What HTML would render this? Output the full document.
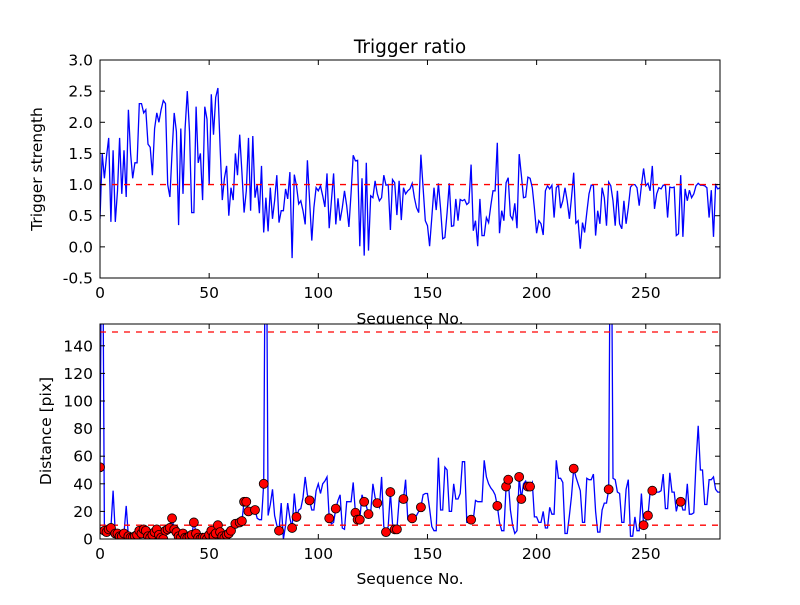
<!DOCTYPE html>
<html><head><meta charset="utf-8"><style>
body{margin:0;background:#fff}
svg{font-family:"DejaVu Sans","Liberation Sans",sans-serif}
</style></head><body>
<svg id="chart" width="800" height="600" viewBox="0 0 800 600">
<rect width="800" height="600" fill="#fff"/>
<defs>
<clipPath id="clipTop"><rect x="100" y="60" width="620" height="218"/></clipPath>
<clipPath id="clipBot"><rect x="100" y="324" width="620" height="215"/></clipPath>
</defs>
<g id="gTop"></g>
<g id="gBot"></g>
</svg>
<script>
const strength = [0.45,1.5,1.1,1.45,1.75,0.4,1.55,0.4,0.9,1.75,0.85,1.55,0.8,2.2,1.5,1.1,1.35,1.35,2.3,2.3,2.15,2.2,1.65,1.6,1.15,1.9,2.15,2.0,2.2,2.35,2.3,1.0,0.8,1.5,2.15,1.85,0.35,1.9,0.85,1.9,2.5,1.85,0.55,0.55,2.25,1.35,1.5,0.75,2.25,2.05,1.0,2.45,1.8,2.4,2.55,1.6,0.75,1.1,1.3,0.5,0.95,0.75,1.5,1.15,1.8,1.2,0.55,0.9,1.75,
0.58,1.78,0.79,1.0,0.54,1.3,0.23,0.79,0.25,0.95,0.45,0.74,1.15,0.39,0.58,0.58,0.93,0.77,1.2,-0.18,1.16,0.98,0.69,0.74,0.58,0.36,1.39,0.74,0.1,0.63,0.95,0.9,0.98,0.82,0.64,1.18,0.3,0.74,1.18,0.36,0.78,0.42,0.63,0.9,0.66,0.32,0.87,1.47,1.38,1.39,0.01,1.1,-0.14,1.35,-0.06,0.82,0.79,1.06,0.85,0.74,0.79,1.15,0.99,1.0,0.27,1.08,1.03,0.51,1.06,0.43,0.95,0.85,0.9,
0.93,1.02,0.79,0.63,0.55,1.48,0.95,0.42,0.34,0.01,0.47,0.95,0.59,1.02,0.61,0.13,0.15,0.55,1.02,0.33,0.34,0.77,0.42,0.76,0.74,0.76,0.68,0.71,1.32,0.26,0.42,0.01,0.77,0.18,0.18,0.47,0.39,0.66,0.9,0.9,1.67,0.22,0.58,0.42,1.03,1.11,0.5,0.44,0.7,0.3,1.49,1.16,0.79,0.8,1.12,1.1,0.95,0.62,0.22,0.42,0.37,0.19,0.9,0.98,0.93,0.99,0.47,0.95,0.99,0.62,0.74,0.95,
0.74,0.45,0.79,1.19,0.38,0.42,-0.03,0.39,0.23,0.55,0.85,0.99,0.99,0.18,0.58,0.37,0.95,0.79,0.34,1.04,0.98,0.74,0.34,0.9,0.37,0.29,0.74,0.37,0.63,0.96,1.0,1.0,0.95,0.66,0.98,1.26,0.98,1.02,0.9,1.3,0.61,0.85,0.95,0.93,0.99,0.99,0.47,0.96,0.95,0.96,0.18,0.21,1.15,0.16,0.93,0.74,0.91,0.79,0.85,0.98,1.02,0.99,0.99,0.98,0.95,0.47,0.91,0.16,0.99,0.93,0.95];
const distance = [52,300,6,5,7,8,35,4,4,2,2,4,24,2,1,1,2,3,6,4,7,6,2,1,3,5,7,3,1,0,6,7,8,15,7,5,2,1,4,1,1,2,3,12,4,1,0,1,1,0,3,6,2,4,10,5,2,1,3,4,6,9,11,12,12,13,27,27,20,21,21,21,15,14,14,40,300,17,25,36,17,10,6,26,0,10,26,15,8,33,16,21,22,30,45,32,28,21,21,35,40,33,40,42,45,15,11,12,22,28,32,8,7,27,27,27,41,19,14,14,32,27,24,18,19,40,30,26,23,45,9,5,9,34,11,7,7,28,28,29,43,14,14,15,16,17,20,23,32,33,33,22,9,6,6,59,21,21,52,50,20,20,40,29,29,33,56,56,12,12,14,14,28,27,27,27,57,45,40,37,35,32,24,12,6,6,38,43,21,10,4,6,45,29,40,42,38,38,41,16,16,12,12,20,8,8,23,18,18,57,44,44,41,4,4,17,31,51,45,40,35,12,12,44,43,43,47,20,5,5,21,26,26,36,300,44,43,34,33,12,12,36,43,2,2,16,6,6,33,10,13,17,34,35,34,34,34,35,47,22,22,48,34,34,20,27,27,21,21,40,18,18,19,55,82,50,50,25,25,43,43,45,36,34,34];
const markerIdx = [0,2,3,4,5,7,8,9,10,11,13,14,15,16,17,18,19,20,21,22,23,24,25,26,27,28,29,30,31,32,33,34,35,36,37,38,39,40,41,42,43,44,45,46,47,48,49,50,51,52,53,54,55,56,57,58,59,60,62,64,65,66,67,68,71,75,82,88,90,96,105,108,117,118,119,121,123,127,131,133,135,136,139,143,147,170,182,186,187,192,193,196,197,217,233,249,251,253,266];
const topYTicks = [-0.5,0,0.5,1.0,1.5,2.0,2.5,3.0];
const botYTicks = [0,20,40,60,80,100,120,140];
const xTicks = [0,50,100,150,200,250];
const strengthThreshold = [1.0];
const distThresholds = [10,150];

const NS="http://www.w3.org/2000/svg";
function mk(parent,tag,attrs,text){const e=document.createElementNS(NS,tag);for(const k in attrs)e.setAttribute(k,attrs[k]);if(text!==undefined)e.textContent=text;parent.appendChild(e);return e;}
const L=100,W=620,XMAX=284;
const sx=v=>L+v/XMAX*W;
const topY=v=>60+(3.0-v)/3.5*218;
const botY=v=>539-v/155.8*215;

function panel(g,T,H,yfn,yticks,fmt,xlabelY){
  for(const t of yticks){const y=yfn(t);
    const a=mk(g,'line',{x1:L,x2:L+5,y1:y,y2:y,stroke:'#000'});
    
    
    mk(g,'line',{x1:L+W,x2:L+W-5,y1:y,y2:y,stroke:'#000'});
    const tx=mk(g,'text',{x:L-7,y:y+5.5,'text-anchor':'end','font-size':15.5},fmt(t));
    
    
  }
  for(const t of xTicks){const x=sx(t);
    mk(g,'line',{x1:x,x2:x,y1:T+H,y2:T+H-5,stroke:'#000'});
    mk(g,'line',{x1:x,x2:x,y1:T,y2:T+5,stroke:'#000'});
    const tx=mk(g,'text',{x:x,y:T+H+20,'text-anchor':'middle','font-size':15.5},String(t));
    
    
  }
  const xl=mk(g,'text',{x:410,y:xlabelY,'text-anchor':'middle','font-size':15.5},'Sequence No.');
  
  
}

const gT=document.getElementById('gTop');
mk(gT,'rect',{x:100,y:60,width:620,height:218,fill:'#fff'});
const tl=mk(gT,'path',{d:strength.map((v,i)=>(i?'L':'M')+sx(i).toFixed(1)+','+topY(v).toFixed(1)).join(''),fill:'none',stroke:'#0000ff','stroke-width':1.3,'clip-path':'url(#clipTop)'});


for(const th of strengthThreshold){
  const l=mk(gT,'line',{x1:100,x2:720,y1:topY(th),y2:topY(th),stroke:'#ff0000','stroke-width':1.3,'stroke-dasharray':'6,6'});
  
  
}
mk(gT,'rect',{x:100,y:60,width:620,height:218,fill:'none',stroke:'#000','stroke-width':1});
panel(gT,60,218,topY,topYTicks,t=>t.toFixed(1),324);
const title=mk(gT,'text',{x:410,y:53,'text-anchor':'middle','font-size':18.5},'Trigger ratio');


const yl1=mk(gT,'text',{x:0,y:0,'text-anchor':'middle','font-size':15.5,transform:'translate(42,169) rotate(-90)'},'Trigger strength');



const gB=document.getElementById('gBot');
mk(gB,'rect',{x:100,y:324,width:620,height:215,fill:'#fff'});
const bl=mk(gB,'path',{d:distance.map((v,i)=>(i?'L':'M')+sx(i).toFixed(1)+','+botY(v).toFixed(1)).join(''),fill:'none',stroke:'#0000ff','stroke-width':1.3,'clip-path':'url(#clipBot)'});


for(const th of distThresholds){
  const l=mk(gB,'line',{x1:100,x2:720,y1:botY(th),y2:botY(th),stroke:'#ff0000','stroke-width':1.3,'stroke-dasharray':'6,6'});
  
  
}
const mg=mk(gB,'g',{'clip-path':'url(#clipBot)'});
for(const i of markerIdx){
  const c=mk(mg,'circle',{cx:sx(i),cy:botY(distance[i]),r:4.5,fill:'#ff0000',stroke:'#000','stroke-width':0.8});
  
  
}
mk(gB,'rect',{x:100,y:324,width:620,height:215,fill:'none',stroke:'#000','stroke-width':1});
panel(gB,324,215,botY,botYTicks,t=>String(t),584);
const yl2=mk(gB,'text',{x:0,y:0,'text-anchor':'middle','font-size':15.5,transform:'translate(51,431) rotate(-90)'},'Distance [pix]');


</script>
</body></html>
